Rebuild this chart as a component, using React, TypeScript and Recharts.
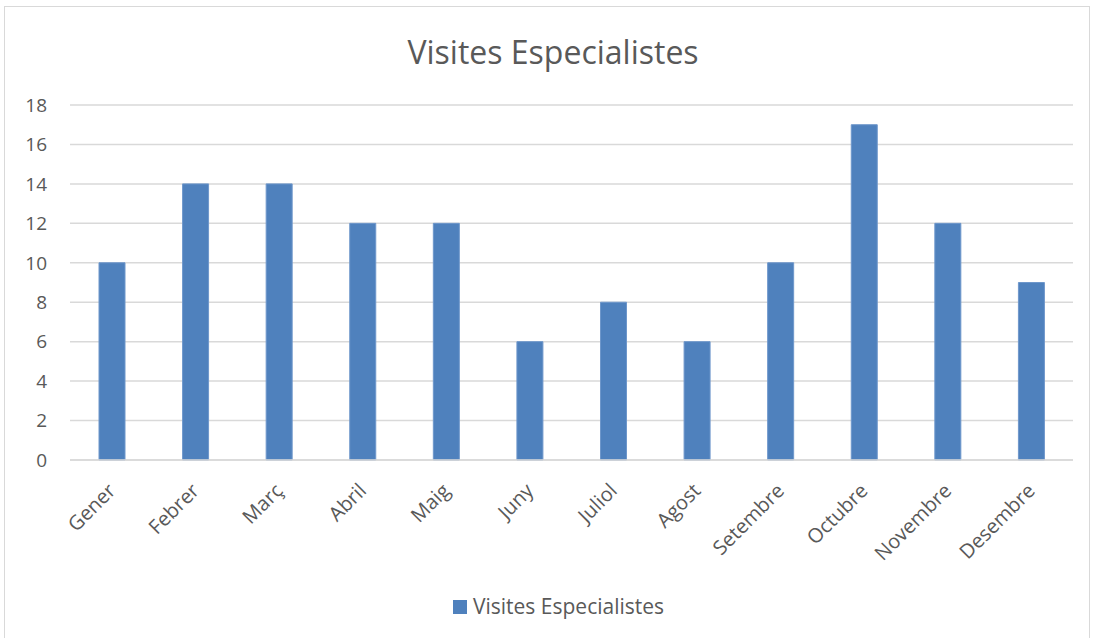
import React from "react";
import { BarChart, Bar, XAxis, YAxis, CartesianGrid, Legend } from "recharts";

const months = ["Gener", "Febrer", "Març", "Abril", "Maig", "Juny", "Juliol", "Agost", "Setembre", "Octubre", "Novembre", "Desembre"];
const visites = [10, 14, 14, 12, 12, 6, 8, 6, 10, 17, 12, 9];
const yTicks = [0, 2, 4, 6, 8, 10, 12, 14, 16, 18];
const seriesName = "Visites Especialistes";
const title = "Visites Especialistes";

const data = months.map((m, i) => ({ month: m, value: visites[i] }));

const FONT = "'Open Sans', sans-serif";
const TEXT = "#595959";
const BAR = "#4F81BD";

const LegendContent = () => (
  <div style={{ height: 68, display: "flex", justifyContent: "center", alignItems: "flex-start", paddingTop: 22, paddingLeft: 36, boxSizing: "border-box", fontFamily: FONT, fontSize: 21, color: TEXT, lineHeight: "29px" }}>
    <span style={{ display: "inline-block", width: 14, height: 14, background: BAR, marginRight: 6, marginTop: 8 }} />
    <span>{seriesName}</span>
  </div>
);

const MonthTick = (props: any) => {
  const { x, y, payload } = props;
  const ax = x + 5;
  const ay = y + 26;
  return (
    <text x={ax} y={ay} textAnchor="end" fill={TEXT} fontFamily={FONT} fontSize={20} transform={`rotate(-45, ${ax}, ${ay})`}>
      {payload.value}
    </text>
  );
};

export default function App() {
  return (
    <div style={{ position: "absolute", left: 0, top: 0, width: 1094, height: 638, background: "#fff", overflow: "hidden" }}>
      <div style={{ position: "absolute", left: 4, top: 6, width: 1086, height: 700, border: "1px solid #D9D9D9", boxSizing: "border-box" }} />
      <div style={{ position: "absolute", left: 0, top: 30, width: 1106, textAlign: "center", fontFamily: FONT, fontSize: 32, color: TEXT, lineHeight: "44px" }}>{title}</div>
      <div style={{ position: "absolute", left: 0, top: 0 }}>
        <BarChart width={1094} height={638} data={data} margin={{ top: 105, right: 21, left: 8, bottom: 0 }}>
          <CartesianGrid vertical={false} stroke="#D9D9D9" strokeWidth={1.5} />
          <XAxis
            dataKey="month"
            axisLine={{ stroke: "#D9D9D9", strokeWidth: 1.5 }}
            tickLine={false}
            interval={0}
            tickMargin={0}
            height={110}
            tick={<MonthTick />}
          />
          <YAxis
            domain={[0, 18]}
            ticks={yTicks}
            width={62}
            axisLine={false}
            tickLine={false}
            tickMargin={17}
            tick={{ fill: TEXT, fontFamily: FONT, fontSize: 19 }}
          />
          <Legend verticalAlign="bottom" height={68} content={<LegendContent />} />
          <Bar dataKey="value" name={seriesName} fill={BAR} stroke="#6E97CB" strokeWidth={1} barSize={26} isAnimationActive={false} />
        </BarChart>
      </div>
    </div>
  );
}
